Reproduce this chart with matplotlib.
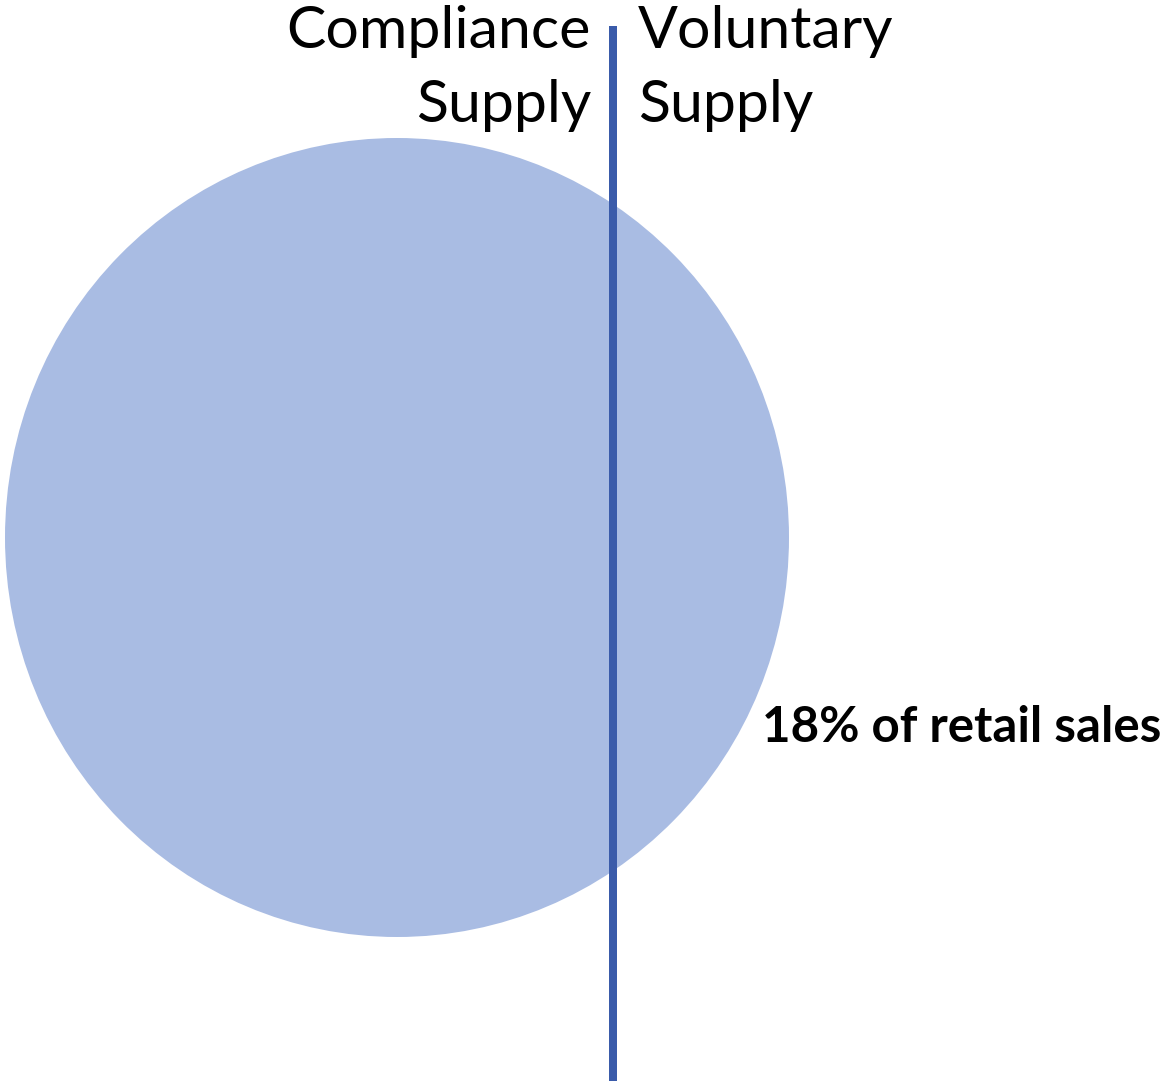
import matplotlib
matplotlib.use("Agg")
import matplotlib.pyplot as plt
from matplotlib.patches import Ellipse

# Content
left_label = ["Compliance", "Supply"]
right_label = ["Voluntary", "Supply"]
annotation = "18% of retail sales"

circle_color = "#A9BCE3"
line_color = "#3A5BAA"

W, H = 1161, 1081
fig = plt.figure(figsize=(W / 100, H / 100), dpi=100)
ax = fig.add_axes([0, 0, 1, 1])
ax.set_xlim(0, W)
ax.set_ylim(H, 0)
ax.axis("off")

ax.add_patch(Ellipse((397, 537.5), 784, 799, facecolor=circle_color, edgecolor="none", zorder=1))
ax.plot([613, 613], [26, H + 5], color=line_color, linewidth=8 * 72 / 100, solid_capstyle="butt", zorder=2)

fam = ["Lato", "DejaVu Sans"]
fs = 42.5
ax.text(591, 48, left_label[0], ha="right", va="baseline", fontsize=fs, family=fam)
ax.text(591, 122, left_label[1], ha="right", va="baseline", fontsize=fs, family=fam)
ax.text(638, 48, right_label[0], ha="left", va="baseline", fontsize=fs, family=fam)
ax.text(638, 122, right_label[1], ha="left", va="baseline", fontsize=fs, family=fam)
ax.text(762, 742, annotation, ha="left", va="baseline", fontsize=35.5, fontweight="bold", family=fam)

fig.savefig("out.png", dpi=100)
